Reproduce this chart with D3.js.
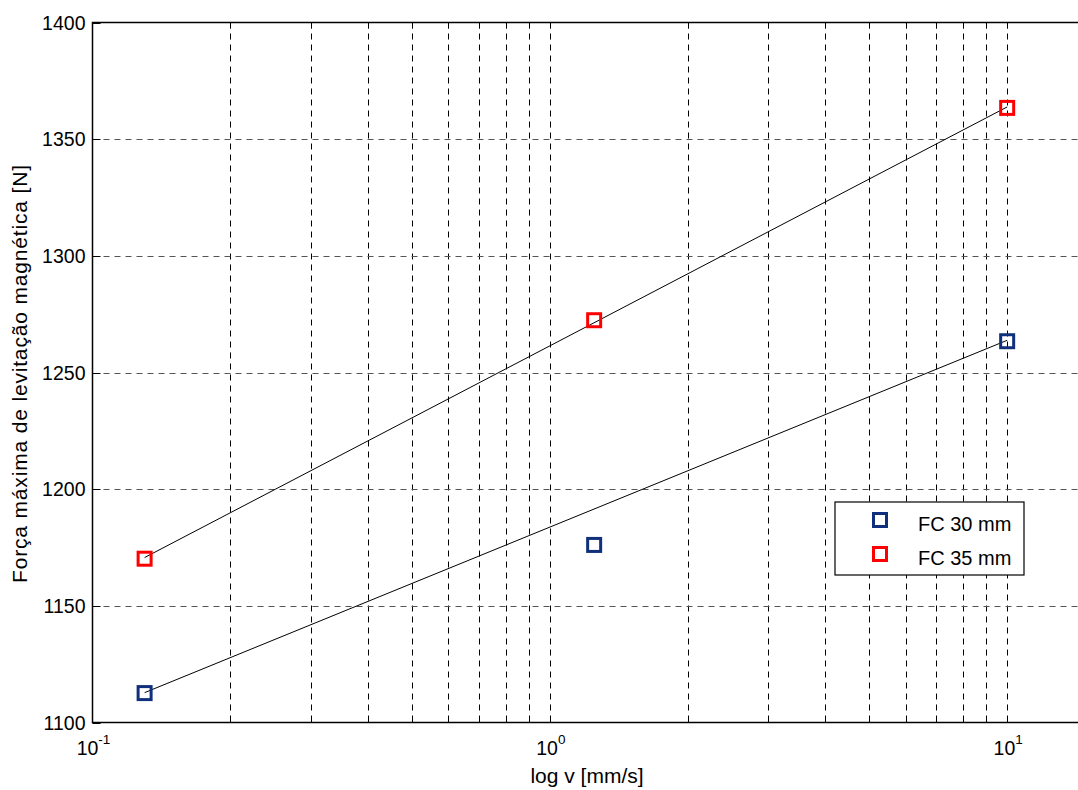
<!DOCTYPE html>
<html>
<head>
<meta charset="utf-8">
<script src="https://cdn.jsdelivr.net/npm/d3@7"></script>
<style>
	body { margin: 0; background: #fff; }
	text { font-family: "Liberation Sans", Arial, sans-serif; fill: #000; }
</style>
</head>
<body>
<div id="chart"></div>
<script>
// measured speeds [mm/s]
let speeds = [0.13, 1.25, 10];
// max levitation force [N]
let force30 = [1112.6, 1176.1, 1263.4];
let force35 = [1170.2, 1272.4, 1363.4];

// fitted lines (log fit), value at first and last speed
let fitSpeeds = [0.13, 10];
let fit30 = [1112.8, 1263.8];
let fit35 = [1170.7, 1363.8];

let yTicks = [1100, 1150, 1200, 1250, 1300, 1350, 1400];
let xDecades = [0.1, 1, 10];
let xMinor = [0.2, 0.3, 0.4, 0.5, 0.6, 0.7, 0.8, 0.9, 1, 2, 3, 4, 5, 6, 7, 8, 9, 10];

let seriesNames = ["FC 30 mm", "FC 35 mm"];
let seriesColors = ["#10307c", "#ff0000"];

var w = 1078,
	h = 790,
	plotLeft = 92.5,
	plotTop = 22.5,
	plotBottom = 722.5,
	plotRight = 1087.7;

let svg = d3
	.select("#chart")
	.append("svg")
	.attr("width", w)
	.attr("height", h);

let x = d3.scaleLog().domain([0.1, 15]).range([plotLeft, plotRight]);
let y = d3.scaleLinear().domain([1100, 1400]).range([plotBottom, plotTop]);

// grid
svg
	.append("g")
	.selectAll("line")
	.data(xMinor)
	.enter()
	.append("line")
	.attr("x1", (d) => Math.round(x(d)) + 0.5)
	.attr("x2", (d) => Math.round(x(d)) + 0.5)
	.attr("y1", plotTop)
	.attr("y2", plotBottom)
	.attr("stroke", "#000")
	.attr("stroke-width", 1)
	.attr("stroke-dasharray", "6,5");

svg
	.append("g")
	.selectAll("line")
	.data(yTicks.slice(1, -1))
	.enter()
	.append("line")
	.attr("x1", plotLeft)
	.attr("x2", w)
	.attr("y1", (d) => Math.round(y(d)) + 0.5)
	.attr("y2", (d) => Math.round(y(d)) + 0.5)
	.attr("stroke", "#555")
	.attr("stroke-width", 1)
	.attr("stroke-dasharray", "6,5");

// inner ticks
svg
	.append("g")
	.selectAll("line")
	.data(xMinor)
	.enter()
	.append("line")
	.attr("x1", (d) => Math.round(x(d)) + 0.5)
	.attr("x2", (d) => Math.round(x(d)) + 0.5)
	.attr("y1", plotBottom)
	.attr("y2", plotBottom - 6)
	.attr("stroke", "#000");

svg
	.append("g")
	.selectAll("line")
	.data(xMinor)
	.enter()
	.append("line")
	.attr("x1", (d) => Math.round(x(d)) + 0.5)
	.attr("x2", (d) => Math.round(x(d)) + 0.5)
	.attr("y1", plotTop)
	.attr("y2", plotTop + 6)
	.attr("stroke", "#000");

svg
	.append("g")
	.selectAll("line")
	.data(yTicks)
	.enter()
	.append("line")
	.attr("x1", plotLeft)
	.attr("x2", plotLeft + 8)
	.attr("y1", (d) => Math.round(y(d)) + 0.5)
	.attr("y2", (d) => Math.round(y(d)) + 0.5)
	.attr("stroke", "#000");

// axes box (right side is outside the picture)
svg
	.append("path")
	.attr("d", `M${w + 20},${plotTop}H${plotLeft}V${plotBottom}H${w + 20}`)
	.attr("fill", "none")
	.attr("stroke", "#000")
	.attr("stroke-width", 1.5);

// y tick labels
svg
	.append("g")
	.selectAll("text")
	.data(yTicks)
	.enter()
	.append("text")
	.attr("x", plotLeft - 7)
	.attr("y", (d) => y(d) + 7)
	.attr("text-anchor", "end")
	.style("font-size", "19.5px")
	.text((d) => d);

// x tick labels 10^n
let xLab = svg
	.append("g")
	.selectAll("text")
	.data(xDecades)
	.enter()
	.append("text")
	.attr("x", (d) => x(d) + 1)
	.attr("y", 755)
	.attr("text-anchor", "middle")
	.style("font-size", "19.5px");

xLab.append("tspan").text("10");
xLab
	.append("tspan")
	.attr("dy", -11)
	.style("font-size", "13.5px")
	.text((d) => Math.round(Math.log10(d)));

// axis titles
svg
	.append("text")
	.attr("x", 587)
	.attr("y", 783)
	.attr("text-anchor", "middle")
	.style("font-size", "21px")
	.text("log v [mm/s]");

svg
	.append("text")
	.attr("transform", "translate(27,374) rotate(-90)")
	.attr("text-anchor", "middle")
	.attr("textLength", 418)
	.attr("lengthAdjust", "spacing")
	.style("font-size", "21px")
	.text("Força máxima de levitação magnética [N]");

// fit lines
let line = d3
	.line()
	.x((d) => x(d[0]))
	.y((d) => y(d[1]));

[fit30, fit35].forEach((fit) => {
	svg
		.append("path")
		.attr("d", line(d3.zip(fitSpeeds, fit)))
		.attr("fill", "none")
		.attr("stroke", "#000")
		.attr("stroke-width", 1);
});

// markers
let markerSize = 13;
[force30, force35].forEach((vals, k) => {
	svg
		.append("g")
		.selectAll("rect")
		.data(d3.zip(speeds, vals))
		.enter()
		.append("rect")
		.attr("x", (d) => x(d[0]) - markerSize / 2)
		.attr("y", (d) => y(d[1]) - markerSize / 2)
		.attr("width", markerSize)
		.attr("height", markerSize)
		.attr("fill", "none")
		.attr("stroke", seriesColors[k])
		.attr("stroke-width", 3);
});

// legend
let legend = svg.append("g").attr("transform", "translate(835,502)");

legend
	.append("rect")
	.attr("width", 189)
	.attr("height", 73)
	.attr("fill", "#fff")
	.attr("stroke", "#000")
	.attr("stroke-width", 1.2);

legend
	.selectAll(".mk")
	.data(seriesNames)
	.enter()
	.append("rect")
	.attr("x", 45 - markerSize / 2)
	.attr("y", (d, i) => 18 + i * 34 - markerSize / 2)
	.attr("width", markerSize)
	.attr("height", markerSize)
	.attr("fill", "none")
	.attr("stroke", (d, i) => seriesColors[i])
	.attr("stroke-width", 3);

legend
	.selectAll(".legendText")
	.data(seriesNames)
	.enter()
	.append("text")
	.attr("class", "legendText")
	.attr("x", 83)
	.attr("y", (d, i) => 29 + i * 34)
	.style("font-size", "20px")
	.text((d) => d);
</script>
</body>
</html>
